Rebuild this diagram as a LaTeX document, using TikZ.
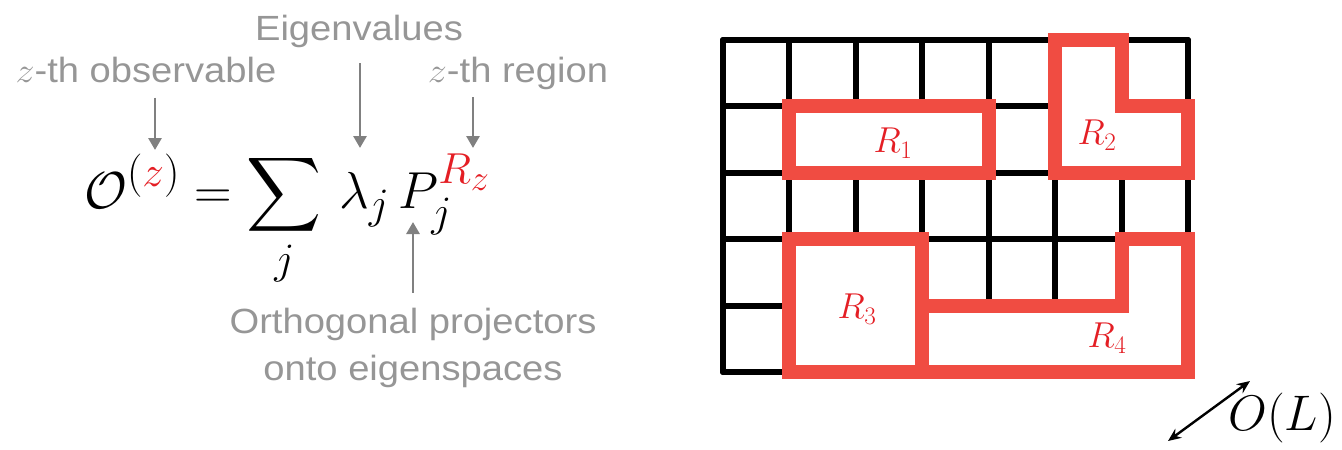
\RequirePackage{fix-cm}
\documentclass[tikz,border=0pt]{standalone}
\usepackage{exscale}
\usepackage[no-math]{fontspec}
\setmainfont{Liberation Sans}
\usetikzlibrary{arrows.meta}
\definecolor{lgray}{RGB}{150,150,150}
\definecolor{agray}{RGB}{128,128,128}
\definecolor{rred}{RGB}{228,30,36}
\definecolor{rband}{RGB}{240,76,66}
\newcommand{\wide}[1]{\scalebox{1.09}[1]{#1}}
\tikzset{
 glabel/.style={text=lgray, font=\fontsize{35}{47}\selectfont, inner sep=0pt},
 garrow/.style={draw=agray, line width=2.8pt, -{Triangle[width=13pt,length=12pt]}},
 gridline/.style={draw=black, line width=6pt, line cap=round},
 region/.style={draw=rband, fill=white, line width=14pt, line join=miter},
 rlabel/.style={text=rred, font=\fontsize{36}{42}\selectfont, inner sep=0pt},
 sizearrow/.style={draw=black, line width=2.4pt, {Stealth[length=13pt,width=11pt]}-{Stealth[length=13pt,width=11pt]}},
}
\begin{document}
\begin{tikzpicture}[x=1pt,y=-1pt]
\useasboundingbox (0,0) rectangle (1342,450);
% formula
\node[anchor=base west, inner sep=0pt] (eq) at (84,208)
 {\scalebox{2.09}{\fontsize{24.88}{30}\selectfont$\displaystyle \mathcal{O}^{(\textcolor{rred}{z})} = \sum_j \,\lambda_j \, P_j^{\textcolor{rred}{R_z}}$}};
% labels
\node[glabel, anchor=base] (obs) at (146,82) {\wide{$z$-th observable}};
\node[glabel, anchor=base] (eig) at (359,40) {\wide{Eigenvalues}};
\node[glabel, anchor=base] (reg) at (518,82) {\wide{$z$-th region}};
\node[glabel, anchor=base] (proj) at (413,333) {\wide{\begin{tabular}[t]{@{}c@{}}Orthogonal projectors\\onto eigenspaces\end{tabular}}};
% arrow targets
\coordinate (tO) at (155,150);
\coordinate (tL) at (360,148);
\coordinate (tR) at (473,148);
\coordinate (tP) at (413,222);
\draw[garrow] ([yshift=-15pt]obs.south -| tO) -- (tO);
\draw[garrow] ([yshift=-16pt]eig.south -| tL) -- (tL);
\draw[garrow] ([yshift=-8pt]reg.south -| tR) -- (tR);
\draw[garrow] ([yshift=7pt]proj.north -| tP) -- (tP);
% grid
\foreach \i in {0,...,7} \draw[gridline] (723+\i*66.43,40) -- (723+\i*66.43,372);
\foreach \j in {0,...,5} \draw[gridline] (723,40+\j*66.4) -- (1188,40+\j*66.4);
% regions
\draw[region] (789.4,106.4) rectangle (988.7,172.8);
\draw[region] (1055.2,40) -- (1121.6,40) -- (1121.6,106.4) -- (1188,106.4) -- (1188,172.8) -- (1055.2,172.8) -- cycle;
\draw[region] (789.4,239.2) rectangle (922.3,372);
\draw[region] (1121.6,239.2) -- (1188,239.2) -- (1188,372) -- (922.3,372) -- (922.3,305.6) -- (1121.6,305.6) -- cycle;
\node[rlabel] (r1) at (893,143) {$R_1$};
\node[rlabel] (r2) at (1097,135) {$R_2$};
\node[rlabel] (r3) at (857,309) {$R_3$};
\node[rlabel] (r4) at (1107,338) {$R_4$};
% size arrow
\coordinate (la) at (1168,441);
\coordinate (lb) at (1250,381);
\draw[sizearrow] (la) -- (lb);
\node[inner sep=0pt, font=\fontsize{50}{60}\selectfont] (OL) at (1282,418) {$O(L)$};
\end{tikzpicture}
\end{document}
